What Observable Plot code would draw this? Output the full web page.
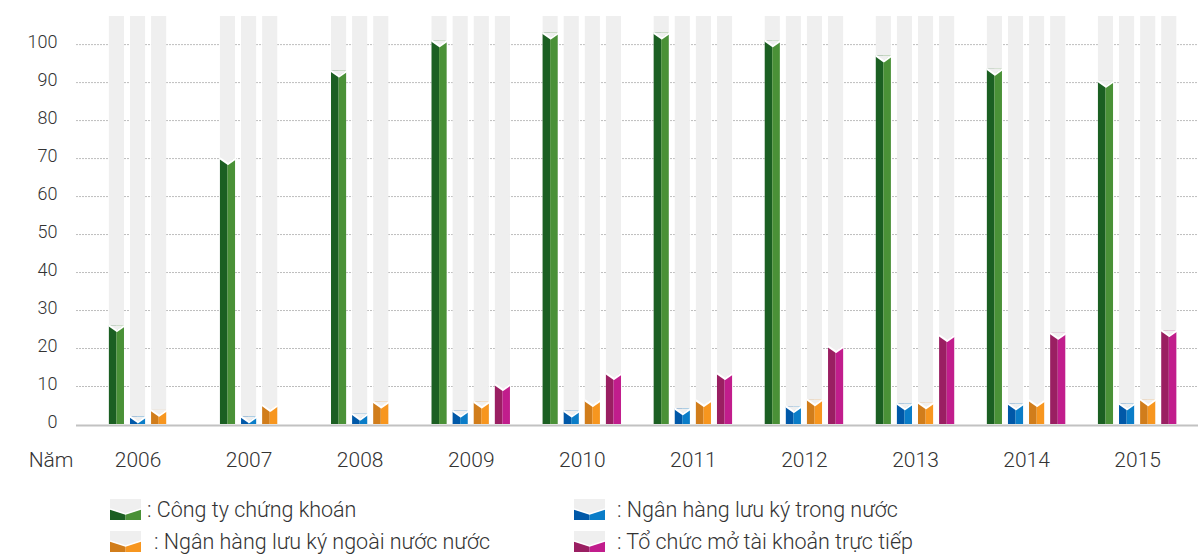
<!DOCTYPE html>
<html>
<head>
<meta charset="utf-8">
<script src="https://cdn.jsdelivr.net/npm/d3@7"></script>
<script src="https://cdn.jsdelivr.net/npm/@observablehq/plot@0.6"></script>
<style>
  html, body { margin: 0; padding: 0; background: #fff; }
  body { width: 1198px; height: 554px; overflow: hidden; font-family: Roboto, "Liberation Sans", sans-serif; font-weight: 300; color: #333; }
  #legend { position: relative; width: 1198px; height: 70px; }
  .item { position: absolute; display: flex; align-items: center; height: 22px; font-size: 21.5px; white-space: nowrap; }
  .item svg { display: block; }
</style>
</head>
<body>
<div id="chart"></div>
<div id="legend"></div>
<script>
// ---- data ----
const years = [2006, 2007, 2008, 2009, 2010, 2011, 2012, 2013, 2014, 2015];
const seriesNames = [
  "Công ty chứng khoán",
  "Ngân hàng lưu ký trong nước",
  "Ngân hàng lưu ký ngoài nước nước",
  "Tổ chức mở tài khoản trực tiếp"
];
const congTyChungKhoan   = [26, 70, 93, 101, 103, 103, 101, 97, 93.5, 90.3];
const nganHangTrongNuoc  = [2.0, 2.0, 2.7, 3.5, 3.5, 4.1, 4.7, 5.4, 5.4, 5.4];
const nganHangNgoaiNuoc  = [3.7, 5.0, 5.9, 5.9, 6.3, 6.3, 6.5, 5.7, 6.3, 6.5];
const toChucMoTaiKhoan   = [null, null, null, 10.5, 13.4, 13.4, 20.5, 23.4, 24.0, 24.7];
const yTicks = [0, 10, 20, 30, 40, 50, 60, 70, 80, 90, 100];

// ---- style ----
const darkColors  = ["#1b5f22", "#0058a8", "#d17d1b", "#9a1f62"];
const lightColors = ["#4a9137", "#0a7dc8", "#f7961f", "#c11d8c"];
const trackColor = "#efefef";
const trackTop = 107.4;     // top of the light background tracks (in value units)
const notchDepth = 1.4;     // chevron depth (value units)
const barStep = 0.19;       // distance between bars in a group (year units)
const barHalf = 0.068;      // half bar width (year units)

// ---- build tables ----
const seriesValues = [congTyChungKhoan, nganHangTrongNuoc, nganHangNgoaiNuoc, toChucMoTaiKhoan];
const bars = [];
years.forEach((yr, i) => {
  const present = seriesValues.map((arr, j) => ({j, v: arr[i]})).filter(d => d.v != null);
  const n = present.length;
  present.forEach((d, k) => {
    const cx = i + (k - (n - 1) / 2) * barStep;
    bars.push({id: `${yr}-${d.j}`, j: d.j, value: d.v, x1: cx - barHalf, xm: cx, x2: cx + barHalf});
  });
});
const notch = bars.flatMap(b => [
  {id: b.id, x: b.x1, yv: b.value, yb: b.value},
  {id: b.id, x: b.xm, yv: b.value - notchDepth, yb: b.value},
  {id: b.id, x: b.x2, yv: b.value, yb: b.value}
]);

const font = "Roboto, 'Liberation Sans', sans-serif";

const chart = Plot.plot({
  width: 1198,
  height: 484,
  marginLeft: 76,
  marginRight: 0,
  marginTop: 16,
  marginBottom: 60,
  style: {fontFamily: font, fontWeight: 300, color: "#333", background: "#fff", overflow: "visible"},
  x: {domain: [-0.554, 9.548], axis: null},
  y: {domain: [0, trackTop], axis: null},
  color: {type: "identity"},
  marks: [
    Plot.ruleY(yTicks.filter(t => t > 0), {stroke: "#bdbdbd", strokeWidth: 1, strokeDasharray: "2,1"}),
    Plot.rectY(bars, {x1: "x1", x2: "x2", y1: 0, y2: trackTop, fill: trackColor}),
    Plot.rectY(bars, {x1: "x1", x2: "xm", y1: 0, y2: "value", fill: d => darkColors[d.j]}),
    Plot.rectY(bars, {x1: "xm", x2: "x2", y1: 0, y2: "value", fill: d => lightColors[d.j]}),
    Plot.areaY(notch, {x: "x", y1: "yv", y2: "yb", z: "id", fill: trackColor, curve: "linear"}),
    Plot.line(notch, {x: "x", y: "yv", z: "id", stroke: "#fff", strokeWidth: 2, curve: "linear"}),
    Plot.ruleY([0], {stroke: "#c2c2c2", strokeWidth: 2, dy: 1}),
    Plot.axisY(yTicks, {tickSize: 0, tickPadding: 19, fontSize: 18, label: null, dy: -2}),
    Plot.axisX(d3.range(years.length), {tickFormat: i => String(years[i]), tickSize: 0, tickPadding: 28, fontSize: 21, label: null}),
    Plot.text(["Năm"], {text: d => d, frameAnchor: "bottom-left", textAnchor: "end", lineAnchor: "top", dx: -3, dy: 28, fontSize: 21, fill: "#333"})
  ]
});
document.getElementById("chart").appendChild(chart);

// ---- legend ----
const legend = document.getElementById("legend");
const itemPos = [
  {left: 110, top: 14, gap: 6},
  {left: 574, top: 14, gap: 12},
  {left: 110, top: 46, gap: 13},
  {left: 574, top: 46, gap: 12}
];
seriesNames.forEach((name, j) => {
  const p = itemPos[j];
  const div = document.createElement("div");
  div.className = "item";
  div.style.left = p.left + "px";
  div.style.top = p.top + "px";
  div.innerHTML =
    `<svg width="31" height="21" viewBox="0 0 31 21">
       <rect x="0" y="0" width="31" height="21" fill="${trackColor}"/>
       <polygon points="0,10 15.5,15 15.5,21 0,21" fill="${darkColors[j]}"/>
       <polygon points="15.5,15 31,10 31,21 15.5,21" fill="${lightColors[j]}"/>
       <polyline points="0,10 15.5,15 31,10" fill="none" stroke="#fff" stroke-width="1.5"/>
     </svg><span style="margin-left:${p.gap}px">: ${name}</span>`;
  legend.appendChild(div);
});
</script>
</body>
</html>
